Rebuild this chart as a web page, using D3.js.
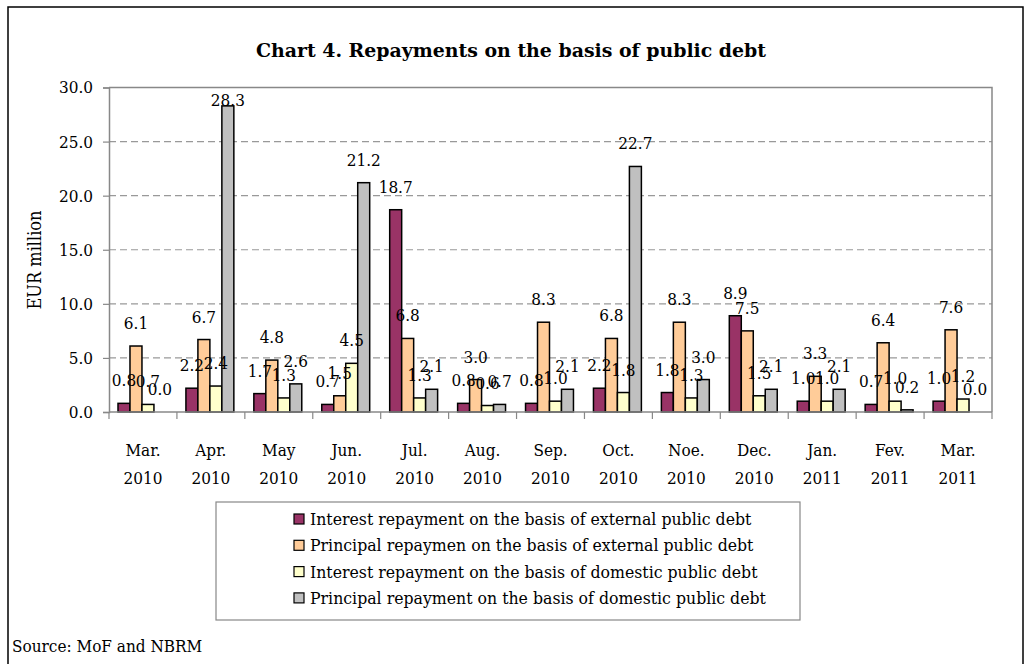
<!DOCTYPE html>
<html lang="en">
<head>
<meta charset="UTF-8">
<title>Chart 4</title>
<script src="https://d3js.org/d3.v7.min.js"></script>
<style>
    body { margin: 0; background: #fff; }
    text { font-family: "DejaVu Serif Condensed", "DejaVu Serif", serif; fill: #000; }
</style>
</head>
<body>
<div id="viz"></div>
<script>
    const months = ["Mar.", "Apr.", "May", "Jun.", "Jul.", "Aug.", "Sep.", "Oct.", "Noe.", "Dec.", "Jan.", "Fev.", "Mar."]
    const years = ["2010", "2010", "2010", "2010", "2010", "2010", "2010", "2010", "2010", "2010", "2011", "2011", "2011"]
    const seriesNames = [
        "Interest repayment on the basis of external public debt",
        "Principal repaymen on the basis of external public debt",
        "Interest repayment on the basis of domestic public debt",
        "Principal repayment on the basis of domestic public debt"
    ]
    const interestExternal  = [0.8, 2.2, 1.7, 0.7, 18.7, 0.8, 0.8, 2.2, 1.8, 8.9, 1.0, 0.7, 1.0]
    const principalExternal = [6.1, 6.7, 4.8, 1.5, 6.8, 3.0, 8.3, 6.8, 8.3, 7.5, 3.3, 6.4, 7.6]
    const interestDomestic  = [0.7, 2.4, 1.3, 4.5, 1.3, 0.6, 1.0, 1.8, 1.3, 1.5, 1.0, 1.0, 1.2]
    const principalDomestic = [0.0, 28.3, 2.6, 21.2, 2.1, 0.7, 2.1, 22.7, 3.0, 2.1, 2.1, 0.2, 0.0]
    const yTicks = [0, 5, 10, 15, 20, 25, 30]
    const colors = ["#993366", "#FFCC99", "#FFFFCC", "#C0C0C0"]

    const allSeries = [interestExternal, principalExternal, interestDomestic, principalDomestic]
    const cats = months.map((m, i) => i)

    const width = 1031
    const height = 664
    const margin = {top: 87.5, left: 109, right: 39, bottom: 252}

    const svg = d3.select("#viz").append("svg")
        .attr("width", width)
        .attr("height", height)

    // outer frame
    svg.append("rect")
        .attr("x", 8).attr("y", 7)
        .attr("width", 1015).attr("height", 700)
        .attr("fill", "none").attr("stroke", "#000").attr("stroke-width", 1.5)

    svg.append("text")
        .attr("x", 511).attr("y", 57)
        .attr("text-anchor", "middle")
        .attr("font-size", 18).attr("font-weight", "bold")
        .attr("textLength", 510).attr("lengthAdjust", "spacingAndGlyphs")
        .text("Chart 4. Repayments on the basis of public debt")

    const xScale = d3.scaleBand()
        .domain(cats)
        .range([margin.left, width - margin.right])
    const bw = xScale.bandwidth()
    const x1 = d3.scaleBand()
        .domain(d3.range(allSeries.length))
        .range([9, bw - 11])

    const yScale = d3.scaleLinear()
        .domain([0, 30])
        .range([height - margin.bottom, margin.top])

    // gridlines
    svg.append("g").selectAll("line")
        .data(yTicks.filter(t => t > 0 && t < 30))
        .enter().append("line")
        .attr("x1", margin.left).attr("x2", width - margin.right)
        .attr("y1", d => yScale(d)).attr("y2", d => yScale(d))
        .attr("stroke", "#999").attr("stroke-width", 1.2)
        .attr("stroke-dasharray", "7,4")

    // plot border (top, right)
    svg.append("path")
        .attr("d", `M${margin.left},${yScale(30)}H${width - margin.right}V${yScale(0)}`)
        .attr("fill", "none").attr("stroke", "#888").attr("stroke-width", 1.5)

    // y axis
    const yAxis = svg.append("g")
        .attr("transform", `translate(${margin.left},0)`)
        .call(d3.axisLeft(yScale).tickValues(yTicks).tickFormat(d3.format(".1f")).tickSize(6).tickPadding(10))
    yAxis.select(".domain").attr("stroke", "#888").attr("stroke-width", 1.5)
    yAxis.selectAll(".tick line").attr("stroke", "#888").attr("stroke-width", 1.2)
    yAxis.selectAll(".tick text")
        .attr("font-size", 17)
        .attr("font-family", "DejaVu Serif Condensed, DejaVu Serif, serif")
        .attr("fill", "#000")

    svg.append("text")
        .attr("transform", `translate(41,${260}) rotate(-90)`)
        .attr("text-anchor", "middle")
        .attr("font-size", 18)
        .text("EUR million")

    // bars
    allSeries.forEach((vals, s) => {
        svg.append("g").selectAll("rect")
            .data(vals)
            .enter().append("rect")
            .attr("x", (d, i) => xScale(i) + x1(s))
            .attr("y", d => yScale(d))
            .attr("width", x1.bandwidth())
            .attr("height", d => yScale(0) - yScale(d))
            .attr("fill", colors[s])
            .attr("stroke", "#000").attr("stroke-width", 1.5)
    })

    // data labels
    allSeries.forEach((vals, s) => {
        svg.append("g").selectAll("text")
            .data(vals)
            .enter().append("text")
            .attr("x", (d, i) => xScale(i) + x1(s) + x1.bandwidth() / 2)
            .attr("y", d => Math.max(yScale(d) - 17, yScale(30) + 18))
            .attr("text-anchor", "middle")
            .attr("font-size", 17)
            .text(d => d.toFixed(1))
    })

    // x axis
    const xg = svg.append("g")
    xg.append("line")
        .attr("x1", margin.left).attr("x2", width - margin.right)
        .attr("y1", yScale(0)).attr("y2", yScale(0))
        .attr("stroke", "#888").attr("stroke-width", 1.5)
    xg.selectAll(".xt")
        .data(cats.concat([cats.length]))
        .enter().append("line")
        .attr("x1", d => d < cats.length ? xScale(d) : width - margin.right)
        .attr("x2", d => d < cats.length ? xScale(d) : width - margin.right)
        .attr("y1", yScale(0)).attr("y2", yScale(0) + 7)
        .attr("stroke", "#888").attr("stroke-width", 1.2)
    xg.selectAll(".xm")
        .data(cats)
        .enter().append("text")
        .attr("x", d => xScale(d) + bw / 2)
        .attr("y", 456)
        .attr("text-anchor", "middle")
        .attr("font-size", 17)
        .text(d => months[d])
    xg.selectAll(".xy")
        .data(cats)
        .enter().append("text")
        .attr("x", d => xScale(d) + bw / 2)
        .attr("y", 484)
        .attr("text-anchor", "middle")
        .attr("font-size", 17)
        .text(d => years[d])

    // legend
    const lg = svg.append("g")
    lg.append("rect")
        .attr("x", 216).attr("y", 502)
        .attr("width", 584).attr("height", 118)
        .attr("fill", "#fff").attr("stroke", "#888").attr("stroke-width", 1.2)
    seriesNames.forEach((name, s) => {
        const cy = 519 + s * 26.3
        lg.append("rect")
            .attr("x", 294).attr("y", cy - 5)
            .attr("width", 10).attr("height", 10)
            .attr("fill", colors[s]).attr("stroke", "#000").attr("stroke-width", 1.2)
        lg.append("text")
            .attr("x", 310).attr("y", cy + 6)
            .attr("font-size", 17.5)
            .text(name)
    })

    svg.append("text")
        .attr("x", 12).attr("y", 652)
        .attr("font-size", 17)
        .text("Source: MoF and NBRM")
</script>
</body>
</html>
